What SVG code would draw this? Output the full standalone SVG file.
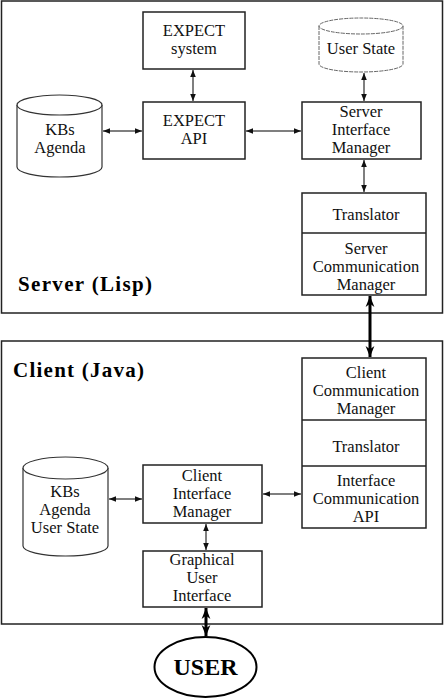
<svg xmlns="http://www.w3.org/2000/svg" width="445" height="700" viewBox="0 0 445 700">
<defs>
<marker id="a" viewBox="0 0 10 10" refX="10" refY="5" markerWidth="7" markerHeight="7" markerUnits="userSpaceOnUse" orient="auto-start-reverse"><path d="M0,1 L10,5 L0,9 Z" fill="#111"/></marker>
<marker id="b" viewBox="0 0 10 10" refX="10" refY="5" markerWidth="11" markerHeight="11" markerUnits="userSpaceOnUse" orient="auto-start-reverse"><path d="M0,1 L10,5 L0,9 L3,5 Z" fill="#000"/></marker>
<style>
.box{fill:#fff;stroke:#222;stroke-width:1.5}
.cont{fill:#fff;stroke:#222;stroke-width:1.5}
.cyl{fill:#fff;stroke:#333;stroke-width:1.2}
.dash{fill:#fff;stroke:#666;stroke-width:1;stroke-dasharray:4,1}
text{font-family:'Liberation Serif',Tinos,'Times New Roman',serif;font-size:16.5px;fill:#111;text-anchor:middle}
.title{font-weight:bold;font-size:21px;text-anchor:start;fill:#000}
.user{font-weight:bold;font-size:24px;fill:#000}
.thin{stroke:#555;stroke-width:1.5;fill:none;marker-start:url(#a);marker-end:url(#a)}
.thick{stroke:#000;stroke-width:3;fill:none;marker-start:url(#b);marker-end:url(#b)}
</style>
</defs>
<rect width="445" height="700" fill="#fff"/>
<g id="server">
<rect class="cont" x="1.5" y="1" width="441" height="312"/>
<text class="title" x="18" y="291" textLength="134">Server (Lisp)</text>
</g>
<g id="client">
<rect class="cont" x="1.5" y="341" width="441" height="283"/>
<text class="title" x="13" y="377" textLength="131">Client (Java)</text>
</g>
<g id="expect-system">
<rect class="box" x="143" y="12" width="102" height="57"/>
<text x="194" y="36">EXPECT</text>
<text x="194" y="54">system</text>
</g>
<g id="user-state">
<path class="dash" d="M319,26 v38 a42,8 0 0 0 84,0 v-38"/>
<ellipse class="dash" cx="361" cy="26" rx="42" ry="8"/>
<text x="361" y="54">User State</text>
</g>
<g id="kbs-server">
<path class="cyl" d="M17,105 v62 a42.5,10 0 0 0 85,0 v-62"/>
<ellipse class="cyl" cx="59.5" cy="105" rx="42.5" ry="10"/>
<text x="60" y="135">KBs</text>
<text x="60" y="153">Agenda</text>
</g>
<g id="expect-api">
<rect class="box" x="143" y="102" width="102" height="57"/>
<text x="194" y="126">EXPECT</text>
<text x="194" y="144">API</text>
</g>
<g id="server-interface-manager">
<rect class="box" x="302" y="102" width="119" height="57"/>
<text x="361" y="117">Server</text>
<text x="361" y="135">Interface</text>
<text x="361" y="153">Manager</text>
</g>
<g id="server-translator">
<rect class="box" x="302" y="193" width="124" height="102"/>
<line x1="302" y1="233" x2="426" y2="233" stroke="#222" stroke-width="1.5"/>
<text x="366" y="220">Translator</text>
<text x="366" y="254">Server</text>
<text x="366" y="272">Communication</text>
<text x="366" y="290">Manager</text>
</g>
<g id="client-communication">
<rect class="box" x="302" y="358" width="124" height="170"/>
<line x1="302" y1="420" x2="426" y2="420" stroke="#222" stroke-width="1.5"/>
<line x1="302" y1="466" x2="426" y2="466" stroke="#222" stroke-width="1.5"/>
<text x="366" y="378">Client</text>
<text x="366" y="396">Communication</text>
<text x="366" y="414">Manager</text>
<text x="366" y="452">Translator</text>
<text x="366" y="486">Interface</text>
<text x="366" y="504">Communication</text>
<text x="366" y="522">API</text>
</g>
<g id="kbs-client">
<path class="cyl" d="M23,468 v78 a42.5,10 0 0 0 85,0 v-78"/>
<ellipse class="cyl" cx="65.5" cy="468" rx="42.5" ry="11"/>
<text x="65" y="497">KBs</text>
<text x="65" y="515">Agenda</text>
<text x="65" y="533">User State</text>
</g>
<g id="client-interface-manager">
<rect class="box" x="143" y="465" width="119" height="58"/>
<text x="202" y="481">Client</text>
<text x="202" y="499">Interface</text>
<text x="202" y="517">Manager</text>
</g>
<g id="gui">
<rect class="box" x="143" y="551" width="119" height="56"/>
<text x="202" y="565">Graphical</text>
<text x="202" y="583">User</text>
<text x="202" y="601">Interface</text>
</g>
<g id="user">
<ellipse cx="205.5" cy="667" rx="51" ry="30" fill="#fff" stroke="#000" stroke-width="2"/>
<text class="user" x="205.5" y="675">USER</text>
</g>
<g id="connectors">
<line class="thin" x1="193" y1="70" x2="193" y2="101"/>
<line class="thin" x1="364" y1="73" x2="364" y2="101"/>
<line class="thin" x1="103" y1="131" x2="142" y2="131"/>
<line class="thin" x1="246" y1="131" x2="301" y2="131"/>
<line class="thin" x1="364" y1="160" x2="364" y2="192"/>
<line class="thick" x1="370" y1="296" x2="370" y2="357"/>
<line class="thin" x1="109" y1="499" x2="142" y2="499"/>
<line class="thin" x1="263" y1="494" x2="301" y2="494"/>
<line class="thin" x1="206" y1="524" x2="206" y2="550"/>
<line class="thick" x1="206" y1="608" x2="206" y2="636"/>
</g>
</svg>
